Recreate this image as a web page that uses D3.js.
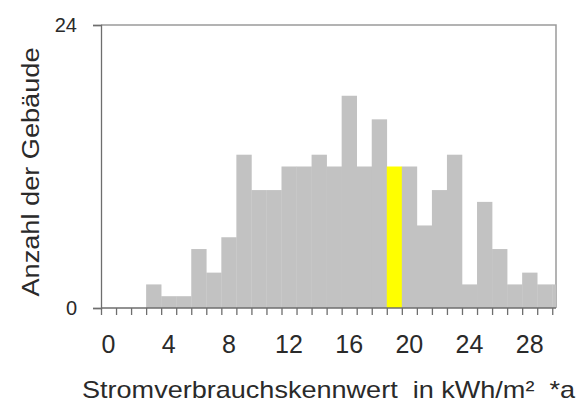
<!DOCTYPE html>
<html>
<head>
<meta charset="utf-8">
<script src="https://cdn.jsdelivr.net/npm/d3@7"></script>
<style>
  body { margin: 0; background: #fff; }
  text { font-family: "Liberation Sans", Arial, sans-serif; fill: #2a2a2a; }
</style>
</head>
<body>
<div id="chart"></div>
<script>
/* DATA */
// bin start (kWh/m²a), one bin per unit
const bins = d3.range(0, 31);
const counts = [0, 0, 0, 2, 1, 1, 5, 3, 6, 13, 10, 10, 12, 12, 13, 12, 18, 12, 16, 12, 12, 7, 10, 13, 2, 9, 5, 2, 3, 2, 2];
const highlightBin = 19;
const xTickLabels = [0, 4, 8, 12, 16, 20, 24, 28];
const yTickLabels = [0, 24];
const xTitle = "Stromverbrauchskennwert  in kWh/m²  *a";
const yTitle = "Anzahl der Gebäude";

const W = 577, H = 405;
const plot = { left: 101, right: 556, top: 25, bottom: 308 };

const svg = d3.select("#chart").append("svg")
  .attr("width", W)
  .attr("height", H);

const x = d3.scaleLinear().domain([0, 30.25]).range([plot.left, plot.right]);
const y = d3.scaleLinear().domain([0, 24]).range([plot.bottom, plot.top]);

// clip so the last bin stops at the frame
svg.append("clipPath").attr("id", "clip")
  .append("rect")
  .attr("x", plot.left).attr("y", plot.top)
  .attr("width", plot.right - plot.left)
  .attr("height", plot.bottom - plot.top);

// frame (top + right)
svg.append("path")
  .attr("d", `M${plot.left},${plot.top}H${plot.right}V${plot.bottom}`)
  .attr("fill", "none")
  .attr("stroke", "#9a9a9a")
  .attr("stroke-width", 1.5);

// bars
svg.append("g")
  .attr("clip-path", "url(#clip)")
  .selectAll("rect")
  .data(bins)
  .join("rect")
  .attr("x", d => x(d))
  .attr("width", d => x(d + 1) - x(d) + 0.3)
  .attr("y", (d, i) => y(counts[i]))
  .attr("height", (d, i) => y(0) - y(counts[i]))
  .attr("fill", d => d === highlightBin ? "#ffff00" : "#c2c2c2");

// x axis: ticks at bin edges, labels at bin centres
const xAxis = d3.axisBottom(x)
  .tickValues(d3.range(0, 31))
  .tickSize(7)
  .tickFormat("");
svg.append("g")
  .attr("transform", `translate(0,${plot.bottom})`)
  .call(xAxis)
  .call(g => g.select(".domain").attr("d", `M${plot.left},0H${plot.right}`))
  .call(g => g.selectAll("path, line").attr("stroke", "#6e6e6e").attr("stroke-width", 1.3));

svg.append("g")
  .selectAll("text")
  .data(xTickLabels)
  .join("text")
  .attr("x", d => x(d + 0.5))
  .attr("y", 353)
  .attr("text-anchor", "middle")
  .attr("font-size", 25)
  .text(d => d);

// y axis
const yAxis = d3.axisLeft(y)
  .tickValues(yTickLabels)
  .tickSize(8)
  .tickFormat("");
svg.append("g")
  .attr("transform", `translate(${plot.left},0)`)
  .call(yAxis)
  .call(g => g.selectAll("path, line").attr("stroke", "#6e6e6e").attr("stroke-width", 1.3));

svg.append("g")
  .selectAll("text")
  .data(yTickLabels)
  .join("text")
  .attr("x", 77)
  .attr("y", d => y(d) + 7)
  .attr("text-anchor", "end")
  .attr("font-size", 20)
  .text(d => d);

// titles
svg.append("text")
  .attr("x", 82)
  .attr("y", 398)
  .attr("font-size", 24)
  .style("white-space", "pre")
  .attr("textLength", 493)
  .attr("lengthAdjust", "spacingAndGlyphs")
  .text(xTitle);

svg.append("text")
  .attr("transform", "translate(39,172) rotate(-90)")
  .attr("text-anchor", "middle")
  .attr("font-size", 23)
  .attr("textLength", 249)
  .attr("lengthAdjust", "spacingAndGlyphs")
  .text(yTitle);
</script>
</body>
</html>
